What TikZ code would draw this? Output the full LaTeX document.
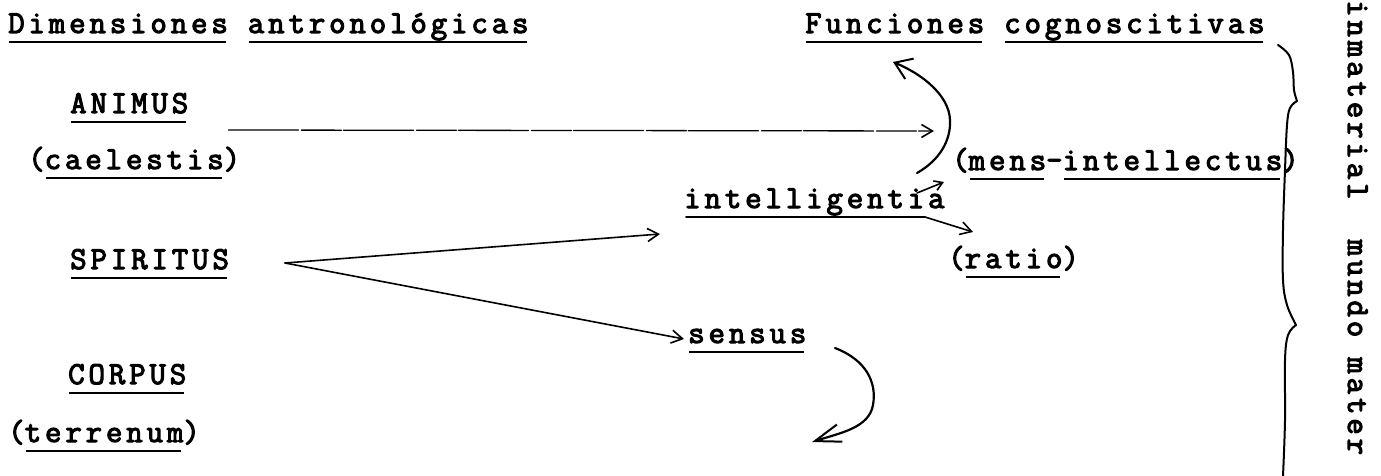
\documentclass[tikz,border=0pt]{standalone}
\usepackage{fontspec}
\usetikzlibrary{arrows.meta,calc}
\newfontfamily\typew{Latin Modern Mono}[LetterSpace=12,FakeBold=3.5]
% typewriter underline under one word
\newcommand\tw[1]{\setbox0\hbox{#1}\rlap{\kern1pt\rule[-10pt]{\dimexpr\wd0-3pt\relax}{1.7pt}}\box0\relax}
\newcommand\typesize{\typew\fontsize{32}{36}\selectfont\fontdimen2\font=20pt\relax}
\begin{document}
\begin{tikzpicture}[x=1pt,y=-1pt,line cap=round,line join=round,
  lbl/.style={inner sep=0pt,anchor=base west,font=\typesize},
  conn/.style={line width=1.6pt},
  curv/.style={line width=2.2pt},
  tipsmall/.style={-{Straight Barb[length=8pt,width=10pt,line width=1.6pt]}},
  tipmid/.style={-{Straight Barb[length=11pt,width=13pt,line width=1.6pt]}},
  tiparc/.style={-{Straight Barb[length=16pt,width=22pt,line width=2pt]}},
  tipbig/.style={-{Straight Barb[length=26pt,width=18pt,line width=2pt]}},
  brace/.style={line width=2pt}]
\path[fill=white] (0,0) rectangle (1381,476);
\useasboundingbox (0,0) rectangle (1381,476);

% headings
\node[lbl] (dim) at (8,33) {\tw{Dimensiones} \tw{antronológicas}};
\node[lbl] (fun) at (805,33) {\tw{Funciones} \tw{cognoscitivas}};

% anthropological dimensions
\node[lbl] (animus) at (70,113) {\tw{ANIMUS}};
\node[lbl] (cael) at (28,169) {(\tw{caelestis})};
\node[lbl] (spir) at (70,269) {\tw{SPIRITUS}};
\node[lbl] (corp) at (68,384) {\tw{CORPUS}};
\node[lbl] (terr) at (8,442) {(\tw{terrenum})};

% cognitive functions
\node[lbl] (intel) at (684,208) {intelligentia};
\node[lbl] (mens) at (952,170) {(\tw{mens}-\tw{intellectus})};
\node[lbl] (ratio) at (948,268) {(\tw{ratio})};
\node[lbl] (sens) at (688,343) {\tw{sensus}};

% side label
\node[lbl,rotate=-90] (side) at (1348,0) {inmaterial\ \ mundo mater};

% connector end points
\coordinate (a-out) at ($(animus.base east)+(40,17)$);
\coordinate (a-in) at ($(mens.base west)+(-18,-39)$);
\coordinate (sp-out) at ($(spir.base west)+(215,-6)$);
\coordinate (i-in) at ($(intel.base west)+(-24,26)$);
\coordinate (s-in) at ($(sens.base west)+(-4,-4)$);
\coordinate (im-out) at ($(mens.base west)+(-35,23)$);
\coordinate (im-in) at ($(mens.base west)+(-8,12)$);
\coordinate (i-ul) at ($(intel.base west)+(2,9)$);
\coordinate (ir-out) at ($(mens.base west)+(-27,47)$);
\coordinate (ir-in) at ($(ratio.base west)+(25,-36)$);
\coordinate (arc-s) at ($(mens.base west)+(-35,3)$);
\coordinate (arc-m) at ($(mens.base west)+(-2,-50)$);
\coordinate (arc-e) at ($(fun.base west)+(88,29)$);
\coordinate (sc-s) at ($(sens.base west)+(147,5)$);
\coordinate (sc-m) at ($(sens.base west)+(185,62)$);
\coordinate (sc-e) at ($(sens.base west)+(124,99)$);

% connectors
\draw[conn,tipmid,line width=1.3pt,dash pattern=on 70pt off 3pt on 40pt off 2pt] (a-out) -- (a-in);
\draw[conn,tipmid] (sp-out) -- (i-in);
\draw[conn,tipmid] (sp-out) -- (s-in);
\draw[conn,tipsmall] (im-out) -- (im-in);
\draw[conn,tipmid] (i-ul) -- (ir-out) -- (ir-in);
\draw[curv,tiparc] (arc-s) .. controls +(23,-13) and +(1,20) .. (arc-m)
  .. controls +(-1,-25) and +(29,12) .. (arc-e);
\draw[curv,tipbig] (sc-s) .. controls +(31,12) and +(4,-23) .. (sc-m)
  .. controls +(-4,23) and +(28,-9) .. (sc-e);

% right-hand brace
\draw[brace] plot[smooth,tension=0.6] coordinates {(1278,45) (1289,55) (1293,72) (1294,90) (1297,101)};
\draw[brace] plot[smooth,tension=0.6] coordinates {(1297,101) (1290,108) (1287,125) (1285,170) (1283,230) (1283,280) (1287,305) (1296,325)};
\draw[brace] plot[smooth,tension=0.6] coordinates {(1296,325) (1288,335) (1285,360) (1285,420) (1283,476)};
\end{tikzpicture}
\end{document}
